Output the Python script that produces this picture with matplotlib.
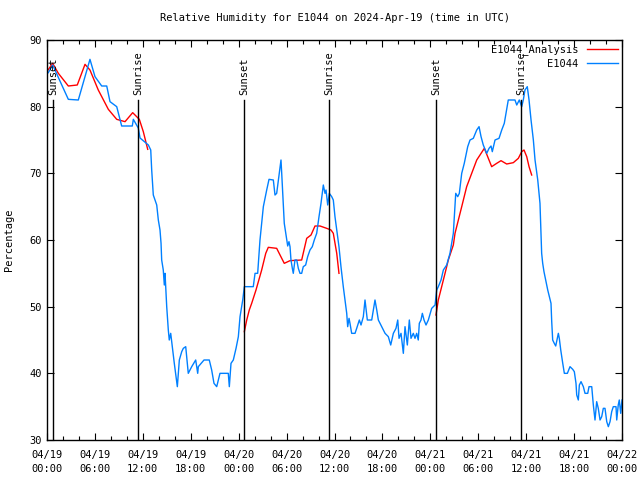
import datetime as dt

import matplotlib
matplotlib.use("Agg")
import matplotlib.pyplot as plt
import matplotlib.dates as mdates
import numpy as np

START = dt.datetime(2024, 4, 19, 0, 0)

# observed RH: hours since 04/19 00:00 UTC, percent
obs_hours = [
    0.16, 0.71, 2.67, 3.92, 5.38, 6.01, 6.85, 7.48, 7.89, 8.73, 9.35, 10.68,
    10.81, 11.43, 11.65, 12.69, 12.99, 13.11, 13.31, 13.74, 13.94, 14.15,
    14.28, 14.36, 14.56, 14.69, 14.78, 14.99, 15.19, 15.31, 15.49, 15.69,
    15.94, 16.32, 16.57, 16.87, 17.07, 17.37, 17.69, 18.12, 18.62, 18.87,
    18.95, 19.66, 20.32, 20.62, 20.91, 21.25, 21.66, 22.70, 22.83, 23.04,
    23.33, 23.67, 23.96, 24.17, 24.51, 24.71, 25.83, 26.05, 26.38, 26.67,
    27.09, 27.51, 27.80, 28.34, 28.55, 28.76, 29.09, 29.30, 29.39, 29.71,
    30.02, 30.14, 30.30, 30.43, 30.55, 30.72, 30.84, 31.05, 31.27, 31.47,
    31.68, 31.89, 32.09, 32.39, 32.64, 32.93, 33.22, 33.47, 33.77, 34.06,
    34.31, 34.60, 34.81, 34.94, 35.15, 35.35, 35.65, 35.85, 36.06, 36.28,
    36.56, 36.81, 37.10, 37.32, 37.53, 37.65, 37.82, 37.94, 38.15, 38.57,
    38.78, 39.11, 39.32, 39.61, 39.82, 40.03, 40.11, 40.66, 40.86, 41.07,
    41.29, 41.49, 41.91, 42.33, 42.74, 43.04, 43.37, 43.70, 43.92, 44.08,
    44.33, 44.62, 44.83, 45.12, 45.37, 45.58, 45.87, 46.08, 46.29, 46.49,
    46.62, 46.83, 47.00, 47.21, 47.46, 47.75, 48.17, 48.59, 48.80, 49.00,
    49.34, 49.63, 50.05, 50.46, 50.88, 51.18, 51.43, 51.63, 51.93, 52.25,
    52.68, 52.97, 53.38, 53.81, 54.10, 54.35, 54.63, 55.06, 55.35, 55.60,
    55.76, 56.10, 56.60, 56.94, 57.26, 57.48, 57.76, 58.60, 58.82, 59.14,
    59.44, 59.64, 59.85, 60.14, 60.36, 60.61, 60.90, 61.11, 61.45, 61.73,
    61.94, 62.07, 62.23, 62.36, 62.48, 62.70, 62.90, 63.11, 63.20, 63.32,
    63.52, 63.70, 63.90, 64.03, 64.15, 64.33, 64.45, 64.58, 64.78, 65.16,
    65.49, 65.83, 66.03, 66.24, 66.33, 66.53, 66.66, 66.87, 67.16, 67.37,
    67.71, 67.87, 68.21, 68.41, 68.62, 68.83, 69.03, 69.25, 69.46, 69.66,
    69.87, 70.09, 70.29, 70.50, 70.71, 70.91, 71.25, 71.34, 71.53, 71.66,
    71.84, 72.0,
]
obs_rh = [
    85.1, 86.25, 81.1, 81.0, 87.1, 84.5, 83.1, 83.1, 80.75, 80.0, 77.1, 77.1,
    78.1, 76.8, 75.3, 74.25, 73.5, 70.5, 66.75, 65.25, 63.0, 61.5,
    59.5, 57.0, 55.5, 53.25, 55.0, 50.0, 46.5, 45.0, 46.0, 44.0,
    41.5, 38.0, 42.0, 43.25, 43.75, 44.0, 40.0, 41.0, 42.0, 40.0,
    41.0, 42.0, 42.0, 40.5, 38.5, 38.0, 40.0, 40.0, 38.0, 41.5,
    42.0, 43.75, 45.5, 48.5, 51.0, 53.0, 53.0, 55.0, 55.0, 60.0,
    65.0, 67.5, 69.1, 69.0, 66.75, 67.0, 70.0, 72.0, 70.0, 62.5,
    60.0, 59.1, 59.75, 59.0, 57.0, 55.75, 55.0, 57.0, 57.0, 55.75,
    55.0, 55.0, 56.0, 56.25, 57.5, 58.5, 59.0, 60.0, 61.0, 63.5,
    65.5, 68.25, 67.0, 67.5, 65.25, 67.0, 66.5, 66.0, 63.5, 61.5,
    59.0, 56.0, 53.0, 51.0, 49.0, 47.0, 48.25, 47.5, 46.0, 46.0,
    46.75, 48.0, 47.25, 48.5, 51.0, 48.75, 48.0, 48.0, 49.5, 51.0,
    49.5, 48.0, 47.0, 46.0, 45.5, 44.25, 46.0, 46.75, 48.0, 45.25,
    46.0, 43.0, 47.0, 44.25, 48.0, 45.25, 46.0, 45.25, 46.0, 45.0,
    47.5, 48.0, 49.0, 48.0, 47.25, 48.0, 49.75, 50.25, 52.5, 53.0,
    54.0, 55.5, 56.25, 58.0, 61.0, 67.0, 66.5, 67.0, 70.0, 71.5,
    74.0, 75.0, 75.25, 76.5, 77.0, 75.5, 74.25, 73.0, 73.75, 74.1,
    73.25, 75.0, 75.25, 76.5, 77.5, 79.0, 81.0, 81.0, 80.25, 81.0,
    80.0, 81.0, 82.5, 83.0, 81.0, 78.0, 75.0, 72.0, 69.0, 65.5,
    58.0, 56.5, 55.25, 54.5, 53.75, 52.5, 51.5, 50.5, 47.75, 45.0,
    44.5, 44.1, 45.25, 46.0, 45.25, 43.5, 42.5, 41.5, 40.0, 40.0,
    41.0, 40.6, 40.25, 38.5, 36.75, 36.0, 38.25, 38.75, 38.0, 37.0,
    37.0, 38.0, 38.0, 35.25, 33.0, 35.75, 34.75, 33.0, 33.5, 34.75,
    34.75, 32.75, 32.0, 32.75, 34.25, 35.0, 35.0, 33.0, 35.25, 36.0,
    34.0, 36.0,
]

# analysis RH, three 12 h windows (NaN = gap)
ana_hours = [
    0.13, 0.71, 1.42, 2.67, 3.79, 4.76, 5.38, 6.42, 7.68, 8.73, 9.77, 10.73,
    11.56, 12.06, 12.61, 18.0,
    24.71, 25.01, 25.33, 25.63, 26.17, 26.88, 27.39, 27.71, 28.76, 29.18,
    29.71, 30.43, 31.89, 32.52, 33.06, 33.56, 34.19, 35.02, 35.56, 35.85,
    36.28, 36.56, 42.0,
    48.71, 49.00, 49.42, 49.84, 50.25, 50.88, 51.09, 51.93, 52.55, 53.18,
    53.81, 54.22, 54.76, 55.18, 55.68, 56.31, 56.85, 57.56, 58.39, 59.02,
    59.44, 59.73, 60.07, 60.36, 60.69,
]
ana_rh = [
    85.5, 86.5, 85.0, 83.1, 83.25, 86.35, 85.5, 82.5, 79.6, 78.1, 77.75, 79.1,
    78.1, 76.25, 73.6, np.nan,
    46.25, 48.0, 49.5, 50.5, 52.5, 55.5, 58.0, 58.9, 58.75, 57.75,
    56.5, 56.9, 57.0, 60.25, 60.75, 62.1, 62.1, 61.75, 61.5, 61.0,
    58.0, 55.0, np.nan,
    48.75, 51.0, 53.0, 55.0, 57.0, 59.25, 61.0, 65.0, 68.0, 70.0,
    72.0, 72.75, 73.75, 72.5, 71.0, 71.5, 71.9, 71.4, 71.6, 72.25,
    73.25, 73.5, 72.5, 71.0, 69.75,
]

sun_hours = [0.75, 11.39, 24.67, 35.31, 48.71, 59.35]
sun_labels = ["Sunset", "Sunrise", "Sunset", "Sunrise", "Sunset", "Sunrise"]


def to_time(hours):
    return [START + dt.timedelta(hours=h) for h in hours]


plt.rcParams["font.family"] = "DejaVu Sans Mono"
plt.rcParams["font.size"] = 7.5

fig = plt.figure(figsize=(6.4, 4.8), dpi=100)
ax = fig.add_axes([47 / 640, 40 / 480, 575 / 640, 400 / 480])

ax.plot(to_time(ana_hours), ana_rh, color="#ff0000", lw=1.0,
        label="E1044_Analysis")
ax.plot(to_time(obs_hours), obs_rh, color="#0080ff", lw=1.0, label="E1044")

for h, lab in zip(sun_hours, sun_labels):
    t = START + dt.timedelta(hours=h)
    ax.axvline(t, ymin=0, ymax=0.85, color="black", lw=1.0)
    ax.text(t, 0.863, lab, rotation=90, ha="center", va="bottom",
            transform=ax.get_xaxis_transform(), fontsize=7.5)

ax.set_xlim(START, START + dt.timedelta(hours=72))
ax.set_ylim(30, 90)
ax.xaxis.set_major_locator(mdates.HourLocator(byhour=[0, 6, 12, 18]))
ax.xaxis.set_minor_locator(mdates.HourLocator(byhour=range(0, 24, 2)))
ax.xaxis.set_major_formatter(mdates.DateFormatter("%m/%d\n%H:%M"))
ax.set_yticks(range(30, 91, 10))
ax.tick_params(which="both", direction="in", top=True, right=True,
               labelsize=7.5, width=0.8)
ax.tick_params(which="major", length=5)
ax.tick_params(which="minor", length=3)
ax.tick_params(axis="x", pad=7)
for lbl in ax.get_xticklabels():
    lbl.set_linespacing(1.5)
for sp in ax.spines.values():
    sp.set_linewidth(1.0)

ax.set_title("Relative Humidity for E1044 on 2024-Apr-19 (time in UTC)",
             fontsize=7.5, pad=14)
ax.set_ylabel("Percentage", fontsize=7.5, labelpad=11)

ax.legend(loc="upper right", frameon=False, markerfirst=False, fontsize=7.5,
          handlelength=3.0, handletextpad=0.8, labelspacing=0.35,
          borderaxespad=0.1, borderpad=0.3)

fig.savefig("out.png", dpi=100)
